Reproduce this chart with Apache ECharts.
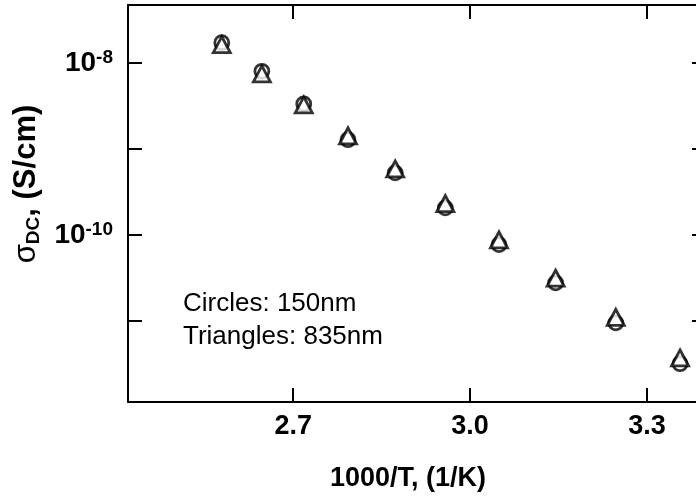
<!DOCTYPE html>
<html>
<head>
<meta charset="utf-8">
<script src="https://cdn.jsdelivr.net/npm/echarts@6/dist/echarts.min.js"></script>
<style>
  html, body { margin: 0; padding: 0; background: #ffffff; overflow: hidden; }
  #chart { width: 712px; height: 499px; }
</style>
</head>
<body>
<div id="chart"></div>
<script>
// 1000/T values (1/K)
const invTemp = [2.579, 2.647, 2.718, 2.793, 2.873, 2.958, 3.049, 3.145, 3.247, 3.356];
// DC conductivity (S/cm), 150 nm film (circles)
const sigma150 = [1.72e-8, 8.0e-9, 3.33e-9, 1.28e-9, 5.26e-10, 2.06e-10, 7.71e-11, 2.77e-11, 9.48e-12, 3.18e-12];
// DC conductivity (S/cm), 835 nm film (triangles)
const sigma835 = [1.63e-8, 7.45e-9, 3.25e-9, 1.42e-9, 5.85e-10, 2.31e-10, 8.75e-11, 3.14e-11, 1.10e-11, 3.71e-12];
// axis ticks
const xTicks = [2.7, 3.0, 3.3];
const yTicks = [1e-11, 1e-10, 1e-9, 1e-8];
const yLabelTicks = [1e-10, 1e-8];
const xRange = [2.42, 3.40];
const yRange = [1.14e-12, 4.72e-8];

const FONT = "'Liberation Sans', Arial, Helvetica, sans-serif";
const black = '#000000';

const chart = echarts.init(document.getElementById('chart'), null, { renderer: 'canvas' });

const lineStyle = { color: black, width: 2 };
const tickStyle = { show: true, inside: true, length: 14, lineStyle: { color: black, width: 2 } };

function pairs(xs, ys) { return xs.map((x, i) => [x, ys[i]]); }

const option = {
  backgroundColor: '#ffffff',
  animation: false,
  grid: { left: 128, top: 5, right: 6, bottom: 97, containLabel: false },
  xAxis: [
    {
      type: 'value', position: 'bottom', min: xRange[0], max: xRange[1],
      axisLine: { show: true, lineStyle },
      axisTick: Object.assign({ customValues: xTicks }, tickStyle),
      splitLine: { show: false },
      axisLabel: {
        customValues: xTicks, margin: 11,
        fontFamily: FONT, fontSize: 27, fontWeight: 'bold', color: black,
        formatter: v => v.toFixed(1)
      },
      name: '1000/T, (1/K)', nameLocation: 'middle', nameGap: 63,
      nameTextStyle: { fontFamily: FONT, fontSize: 27, fontWeight: 'bold', color: black, padding: [0, 18, 0, 0] }
    },
    {
      type: 'value', position: 'top', min: xRange[0], max: xRange[1],
      axisLine: { show: true, lineStyle },
      axisTick: Object.assign({ customValues: xTicks }, tickStyle),
      axisLabel: { show: false },
      splitLine: { show: false }
    }
  ],
  yAxis: [
    {
      type: 'log', logBase: 10, position: 'left', min: yRange[0], max: yRange[1],
      axisLine: { show: true, lineStyle },
      axisTick: Object.assign({ customValues: yTicks }, tickStyle),
      minorTick: { show: false },
      splitLine: { show: false },
      axisLabel: {
        customValues: yLabelTicks, margin: 15,
        formatter: v => '{b|10}{s|' + Math.round(Math.log10(v)) + '}',
        rich: {
          b: { fontFamily: FONT, fontSize: 28, fontWeight: 'bold', color: black, lineHeight: 30 },
          s: { fontFamily: FONT, fontSize: 19, fontWeight: 'bold', color: black, verticalAlign: 'top', lineHeight: 30, padding: [0, 0, 16, 0] }
        }
      },
      name: '{g|σ}{d|DC}{t|, (S/cm)}', nameLocation: 'middle', nameGap: 80,
      nameTextStyle: {
        padding: [0, 0, 0, 39],
        rich: {
          g: { fontFamily: FONT, fontSize: 31, color: black, lineHeight: 34 },
          d: { fontFamily: FONT, fontSize: 19, fontWeight: 'bold', color: black, verticalAlign: 'bottom', lineHeight: 34 },
          t: { fontFamily: FONT, fontSize: 31, fontWeight: 'bold', color: black, lineHeight: 34 }
        }
      }
    },
    {
      type: 'log', logBase: 10, position: 'right', min: yRange[0], max: yRange[1],
      axisLine: { show: true, lineStyle },
      axisTick: Object.assign({ customValues: yTicks }, tickStyle),
      minorTick: { show: false },
      axisLabel: { show: false },
      splitLine: { show: false }
    }
  ],
  series: [
    {
      name: 'Circles: 150nm', type: 'scatter', xAxisIndex: 0, yAxisIndex: 0,
      symbol: 'circle', symbolSize: 14, z: 2,
      itemStyle: { color: '#ffffff', borderColor: black, borderWidth: 2.8 },
      data: pairs(invTemp, sigma150)
    },
    {
      name: 'Triangles: 835nm', type: 'scatter', xAxisIndex: 0, yAxisIndex: 0,
      symbol: 'triangle', symbolSize: [17, 16], z: 3,
      itemStyle: { color: '#ffffff', borderColor: black, borderWidth: 2.8 },
      data: pairs(invTemp, sigma835)
    }
  ],
  graphic: [
    {
      type: 'text', left: 183, top: 287, z: 10,
      style: {
        text: 'Circles: 150nm\nTriangles: 835nm',
        fontFamily: FONT, fontSize: 26, lineHeight: 33, fill: black
      }
    }
  ]
};

chart.setOption(option);
</script>
</body>
</html>
